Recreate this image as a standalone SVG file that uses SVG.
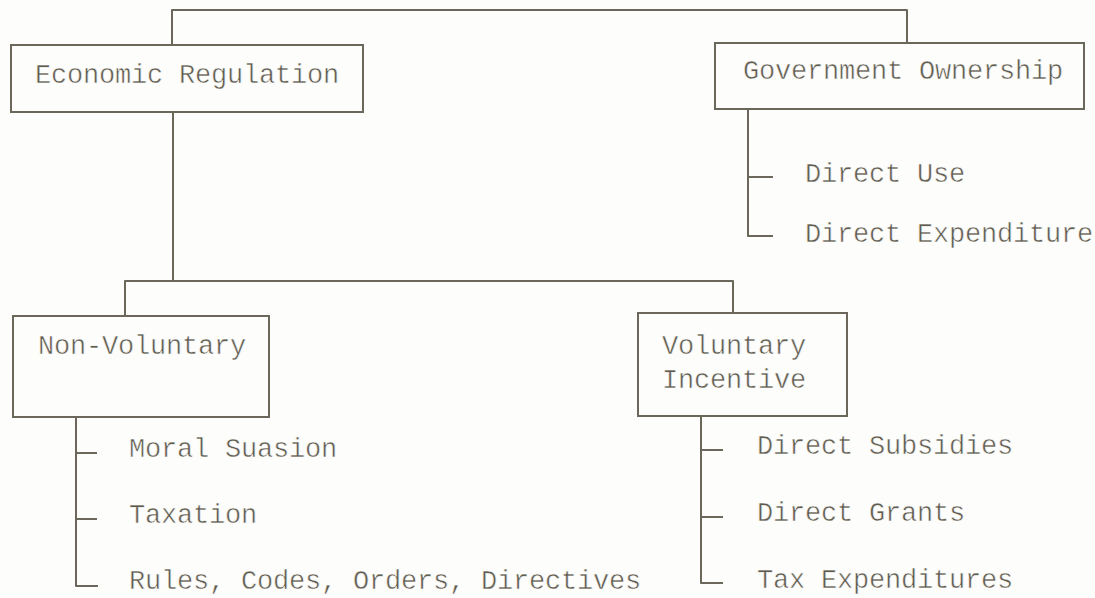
<svg xmlns="http://www.w3.org/2000/svg" width="1095" height="598" viewBox="0 0 1095 598">
  <style>
    .box { fill: none; stroke: #6b675b; stroke-width: 2; }
    .wire { fill: none; stroke: #6b675b; stroke-width: 2; stroke-linejoin: round; }
    /* thin the monospace strokes a little with a paper-coloured outline */
    .lbl { font-family: "Liberation Mono", "Courier New", monospace; font-size: 27px; letter-spacing: -0.2px; fill: #5f5b4f; stroke: #fdfdfb; stroke-width: 0.5px; }
  </style>
  <rect width="1095" height="598" fill="#fdfdfb"/>

  <!-- connectors -->
  <g id="connectors">
    <path class="wire" d="M172,45 V10 H907 V42"/>
    <path class="wire" d="M173,112 V281"/>
    <path class="wire" d="M125,316 V281 H733 V313"/>
    <path class="wire" d="M748,109 V236 H773 M748,177 H773"/>
    <path class="wire" d="M76,417 V586 H98 M76,453 H97 M76,519 H97"/>
    <path class="wire" d="M701,416 V583 H723 M701,450 H723 M701,517 H723"/>
  </g>

  <!-- top-level categories -->
  <g id="economic-regulation">
    <rect class="box" x="11" y="45" width="352" height="67"/>
    <text class="lbl" x="35" y="83">Economic Regulation</text>
  </g>
  <g id="government-ownership">
    <rect class="box" x="715" y="43" width="369" height="66"/>
    <text class="lbl" x="743" y="79">Government Ownership</text>
  </g>

  <!-- government ownership items -->
  <g id="direct-use"><text class="lbl" x="805" y="182">Direct Use</text></g>
  <g id="direct-expenditure"><text class="lbl" x="805" y="242">Direct Expenditure</text></g>

  <!-- regulation sub-categories -->
  <g id="non-voluntary">
    <rect class="box" x="13" y="316" width="256" height="101"/>
    <text class="lbl" x="38" y="354">Non-Voluntary</text>
  </g>
  <g id="voluntary-incentive">
    <rect class="box" x="638" y="313" width="209" height="103"/>
    <text class="lbl" x="662" y="354">Voluntary</text>
    <text class="lbl" x="662" y="388">Incentive</text>
  </g>

  <!-- non-voluntary items -->
  <g id="moral-suasion"><text class="lbl" x="129" y="457">Moral Suasion</text></g>
  <g id="taxation"><text class="lbl" x="129" y="523">Taxation</text></g>
  <g id="rules-codes"><text class="lbl" x="129" y="589">Rules, Codes, Orders, Directives</text></g>

  <!-- voluntary incentive items -->
  <g id="direct-subsidies"><text class="lbl" x="757" y="454">Direct Subsidies</text></g>
  <g id="direct-grants"><text class="lbl" x="757" y="521">Direct Grants</text></g>
  <g id="tax-expenditures"><text class="lbl" x="757" y="588">Tax Expenditures</text></g>
</svg>
